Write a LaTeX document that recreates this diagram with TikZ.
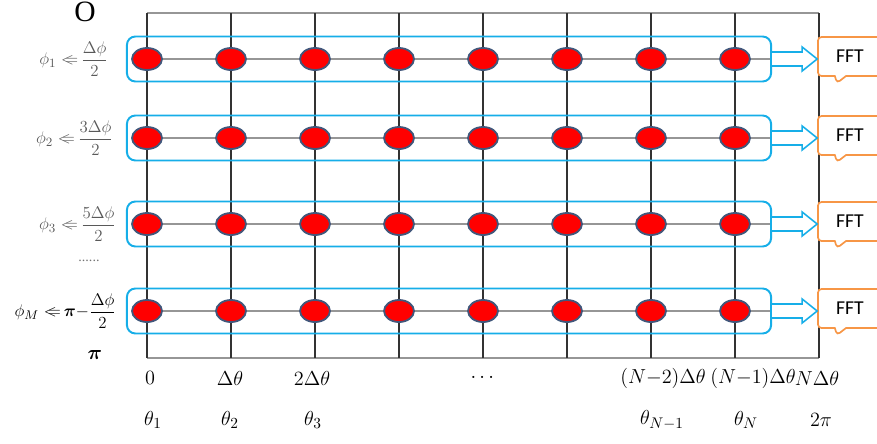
\documentclass[tikz,border=0pt]{standalone}
\usepackage{amsmath,bm}
\usepackage{fontspec}
\setmainfont{Liberation Serif}
\newfontfamily\calibri{Carlito}
\usetikzlibrary{arrows.meta,positioning,calc,shapes.geometric,shapes.callouts}
\definecolor{sky}{RGB}{22,174,232}
\definecolor{tangerine}{RGB}{247,150,70}
\definecolor{slate}{RGB}{65,87,123}
\definecolor{cherry}{RGB}{255,0,0}
\definecolor{wire}{RGB}{150,150,150}
\definecolor{gridink}{RGB}{50,50,50}
\newcommand{\ltwrite}{{<}\!\!\!{=}}
\tikzset{
  dot/.style={ellipse,draw=slate,fill=cherry,line width=1.3pt,
    minimum width=0.75cm,minimum height=0.55cm,inner sep=0pt},
  band/.style={draw=sky,line width=1.4pt,rounded corners=6pt,
    minimum width=16.1cm,minimum height=1.125cm,inner sep=0pt},
  fftbox/.style={rectangle callout,draw=tangerine,fill=white,line width=1.2pt,
    rounded corners=2.5pt,minimum width=1.6cm,minimum height=0.975cm,inner sep=0pt,
    callout pointer width=0.28cm,font=\calibri\fontsize{14}{16}\selectfont},
  pipe/.style={draw=sky,line width=1.1pt,fill=white,line join=miter},
  lbl/.style={font=\fontsize{15}{18}\selectfont},
  phil/.style={anchor=east,font=\fontsize{13}{15}\selectfont},
  wireln/.style={draw=wire,line width=0.9pt},
  gridln/.style={draw=gridink,line width=0.8pt},
}
\begin{document}
\begin{tikzpicture}[x=0.025cm,y=-0.025cm]
  \useasboundingbox (0,0) rectangle (877,443);
  \clip (0,0) rectangle (877,443);
  % grid
  \draw[wireln] (147,13) -- (819,13);
  \draw[wireln] (147,358) -- (819,358);
  \foreach \y in {59,138,224,311} \draw[wireln] (147,\y) -- (819,\y);
  \foreach \c in {0,...,8} \draw[gridln] ({147+84*\c},13) -- ({147+84*\c},358);
  % rows of samples
  \foreach \r/\y in {1/59,2/138,3/224,4/311}{
    \node[band] (row-\r) at (449,\y) {};
    \foreach \c in {0,...,7} \node[dot] (d\r-\c) at ({147+84*\c},\y) {};
    \node[fftbox,callout absolute pointer={(837,\y+24)}] (fft-\r) at (850,\y-2.5) {FFT};
    \coordinate (tip-\r) at (row-\r.east -| fft-\r.west);
    \draw[pipe] ($(row-\r.east)+(0,-7)$) -- ($(tip-\r)+(-15,-7)$) -- ($(tip-\r)+(-15,-12)$)
      -- (tip-\r) -- ($(tip-\r)+(-15,12)$) -- ($(tip-\r)+(-15,7)$) -- ($(row-\r.east)+(0,7)$);
  }
  % phi labels
  \node[phil,text=black!65] (phi-1) at (113,59) {$\phi_1\;\ltwrite\,\dfrac{\Delta\phi}{2}$};
  \node[phil,text=black!65] (phi-2) at (118,138) {$\phi_2\;\ltwrite\,\dfrac{3\Delta\phi}{2}$};
  \node[phil,text=black!65] (phi-3) at (121,224) {$\phi_3\;\ltwrite\,\dfrac{5\Delta\phi}{2}$};
  \node[phil] (phi-M) at (121,311) {$\phi_M\;\ltwrite\,\bm{\pi}{-}\dfrac{\Delta\phi}{2}$};
  \node[font=\normalsize,text=black!55] (vdots) at (89,261) {......};
  \node[font=\fontsize{21}{22}\selectfont] (top) at (85,12) {O};
  \node[lbl] (bottom) at (95,355) {$\bm{\pi}$};
  % theta labels
  \foreach \x/\t in {150/0,230/\Delta\theta,312/2\Delta\theta,484/\cdots,
      663/(N{-}2)\Delta\theta,753/(N{-}1)\Delta\theta,817/N\Delta\theta}
    \node[lbl] (tick-\x) at (\x,378) {$\t$};
  \foreach \x/\t in {153/\theta_1,230/\theta_2,313/\theta_3,
      662/\theta_{N-1},746/\theta_N,821/2\pi}
    \node[lbl] (th-\x) at (\x,420) {$\t$};
\end{tikzpicture}
\end{document}
